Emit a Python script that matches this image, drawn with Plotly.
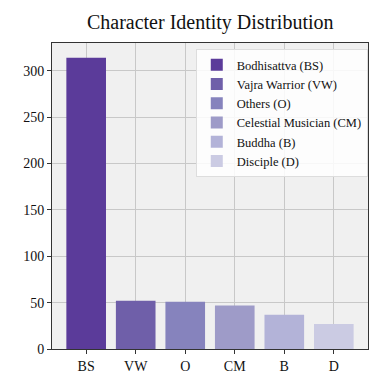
import plotly.graph_objects as go

codes = ["BS", "VW", "O", "CM", "B", "D"]
names = ["Bodhisattva (BS)", "Vajra Warrior (VW)", "Others (O)",
         "Celestial Musician (CM)", "Buddha (B)", "Disciple (D)"]
counts = [314, 52, 51, 47, 37, 27]
colors = ["#5b3b9a", "#6f5fa9", "#8683bd", "#9e9bc8", "#b3b3d8", "#cbcbe3"]

fig = go.Figure()
for c, n, v, col in zip(codes, names, counts, colors):
    fig.add_trace(go.Bar(x=[c], y=[v], name=n, marker_color=col,
                         marker_line_width=0, width=0.8))

font = "Liberation Serif, Times New Roman, serif"
fig.update_layout(
    width=378, height=378,
    barmode="overlay",
    paper_bgcolor="white", plot_bgcolor="#f0f0f0",
    margin=dict(l=44, r=18, t=35, b=35),
    font=dict(family=font, size=14, color="#111"),
    title=dict(text="Character Identity Distribution", x=0.535, xanchor="center",
               y=0.962, yanchor="middle", font=dict(family=font, size=20, color="#111")),
    showlegend=True,
    legend=dict(x=0.455, y=0.98, xanchor="left", yanchor="top",
                bgcolor="rgba(255,255,255,0.85)", bordercolor="#dddddd", borderwidth=1,
                font=dict(family=font, size=12.5, color="#111"),
                tracegroupgap=0, itemwidth=30),
    xaxis=dict(range=[-0.69, 5.69], showgrid=True, gridcolor="#c8c8c8", gridwidth=1,
               showline=True, linecolor="#333", linewidth=1, mirror=True,
               ticks="outside", ticklen=4, tickcolor="#333",
               tickfont=dict(size=14, family=font)),
    yaxis=dict(range=[0, 330], tickvals=[0, 50, 100, 150, 200, 250, 300],
               showgrid=True, gridcolor="#c8c8c8", gridwidth=1,
               showline=True, linecolor="#333", linewidth=1, mirror=True,
               ticks="outside", ticklen=4, tickcolor="#333", zeroline=False,
               tickfont=dict(size=14, family=font)),
)
fig.write_html("out.html")
